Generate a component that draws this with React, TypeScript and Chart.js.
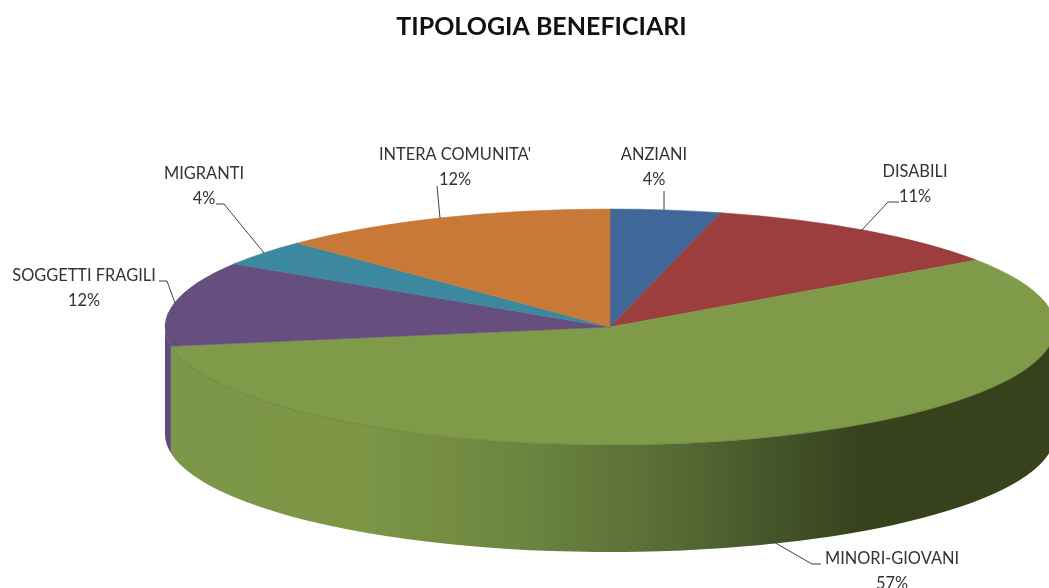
import React, { useEffect, useRef } from "react";
import { Chart, registerables } from "chart.js";

Chart.register(...registerables);

const TITLE = "TIPOLOGIA BENEFICIARI";
const categories = ["ANZIANI", "DISABILI", "MINORI-GIOVANI", "SOGGETTI FRAGILI", "MIGRANTI", "INTERA COMUNITA'"];
const shares = [4.0, 11.4, 57.0, 11.6, 3.6, 12.4];
const sliceColors = ["#3F6797", "#9B3E3D", "#7F9A48", "#664F7F", "#3C889E", "#C87937"];
const wallColors = ["#2f4d71", "#742e2e", "#7F9A48", "#604a7b", "#2d6676", "#965b29"];

// Presentation geometry (projection of the pie, and manual label placement)
const PROJ = { cx: 610, cy: 327, rx: 445, ry: 118, depth: 107 };
const LABEL_POS: [number, number][] = [
  [654, 155], [915, 172], [892, 559], [84, 276], [204, 174], [455, 155],
];
const LEADERS: [number, number][][] = [
  [[664, 191], [664, 210]],
  [[899, 202], [888, 202], [861, 231]],
  [[821, 564], [812, 564], [772, 541]],
  [[159, 281], [167, 281], [175, 303]],
  [[216, 204], [224, 204], [264, 253]],
  [[437, 186], [440, 218]],
];
const WALL_STOPS: [number, string][] = [
  [0, "#7c9747"], [0.22, "#7c9646"], [0.4, "#6c853f"], [0.55, "#596e36"],
  [0.68, "#45552a"], [0.78, "#37421d"], [1, "#37421d"],
];
const LABEL_FONT = '16.4px Lato, "Open Sans", sans-serif';

const pie3d = {
  id: "pie3d",
  beforeDatasetDraw(chart: any, args: any) {
    const { ctx } = chart;
    const arcs = args.meta.data;
    const { cx, cy, rx, ry, depth } = PROJ;
    arcs.forEach((arc: any, i: number) => {
      const a = Math.max(arc.startAngle, 0);
      const b = Math.min(arc.endAngle, Math.PI);
      if (b <= a) return;
      const left = cx - rx * Math.cos(Math.PI - b);
      let fill: any = wallColors[i];
      if (i === 2) {
        const g = ctx.createLinearGradient(left, 0, cx + rx, 0);
        WALL_STOPS.forEach(([p, c]) => g.addColorStop(p, c));
        fill = g;
      }
      ctx.save();
      ctx.beginPath();
      ctx.ellipse(cx, cy, rx, ry, 0, a, b);
      ctx.ellipse(cx, cy + depth, rx, ry, 0, b, a, true);
      ctx.closePath();
      ctx.fillStyle = fill;
      ctx.fill();
      ctx.restore();
    });
    const first = arcs[0];
    ctx.save();
    ctx.translate(cx, cy);
    ctx.scale(rx / first.outerRadius, ry / first.outerRadius);
    ctx.translate(-first.x, -first.y);
  },
  afterDatasetDraw(chart: any, args: any) {
    const { ctx } = chart;
    ctx.restore();
    const { cx, cy, rx, ry } = PROJ;
    const green = args.meta.data[2];
    ctx.save();
    ctx.beginPath();
    ctx.ellipse(cx, cy, rx, ry, 0, Math.max(green.startAngle, 0), Math.min(green.endAngle, Math.PI));
    ctx.strokeStyle = "rgba(70,90,35,0.35)";
    ctx.lineWidth = 1;
    ctx.stroke();
    ctx.restore();
  },
  afterDraw(chart: any) {
    const { ctx } = chart;
    const total = shares.reduce((s, v) => s + v, 0);
    ctx.save();
    ctx.strokeStyle = "#404040";
    ctx.lineWidth = 1;
    LEADERS.forEach((pts) => {
      ctx.beginPath();
      pts.forEach(([x, y], k) => (k ? ctx.lineTo(x, y) : ctx.moveTo(x, y)));
      ctx.stroke();
    });
    ctx.fillStyle = "#333333";
    ctx.font = LABEL_FONT;
    ctx.textAlign = "center";
    ctx.textBaseline = "middle";
    categories.forEach((name, i) => {
      const [x, y] = LABEL_POS[i];
      ctx.fillText(name, x, y);
      ctx.fillText(`${Math.round((shares[i] / total) * 100)}%`, x, y + 25);
    });
    ctx.restore();
  },
};

export default function App() {
  const ref = useRef<HTMLCanvasElement | null>(null);
  useEffect(() => {
    if (!ref.current) return;
    const chart = new Chart(ref.current, {
      type: "pie",
      data: {
        labels: categories,
        datasets: [{
          data: shares,
          backgroundColor: sliceColors,
          borderColor: sliceColors,
          borderWidth: 0.5,
          clip: false,
        } as any],
      },
      options: {
        responsive: false,
        animation: false,
        layout: { padding: { left: 34 } },
        plugins: {
          legend: { display: false },
          tooltip: { enabled: false },
          title: {
            display: true,
            text: TITLE,
            color: "#111111",
            font: { family: 'Lato, "Open Sans", sans-serif', size: 25, weight: "bold" },
            padding: { top: 12, bottom: 10 },
          },
        },
      },
      plugins: [pie3d],
    } as any);
    return () => chart.destroy();
  }, []);
  return (
    <canvas
      ref={ref}
      width={1049}
      height={588}
      style={{ position: "absolute", left: 0, top: 0, width: 1049, height: 588, background: "#fff" }}
    />
  );
}
